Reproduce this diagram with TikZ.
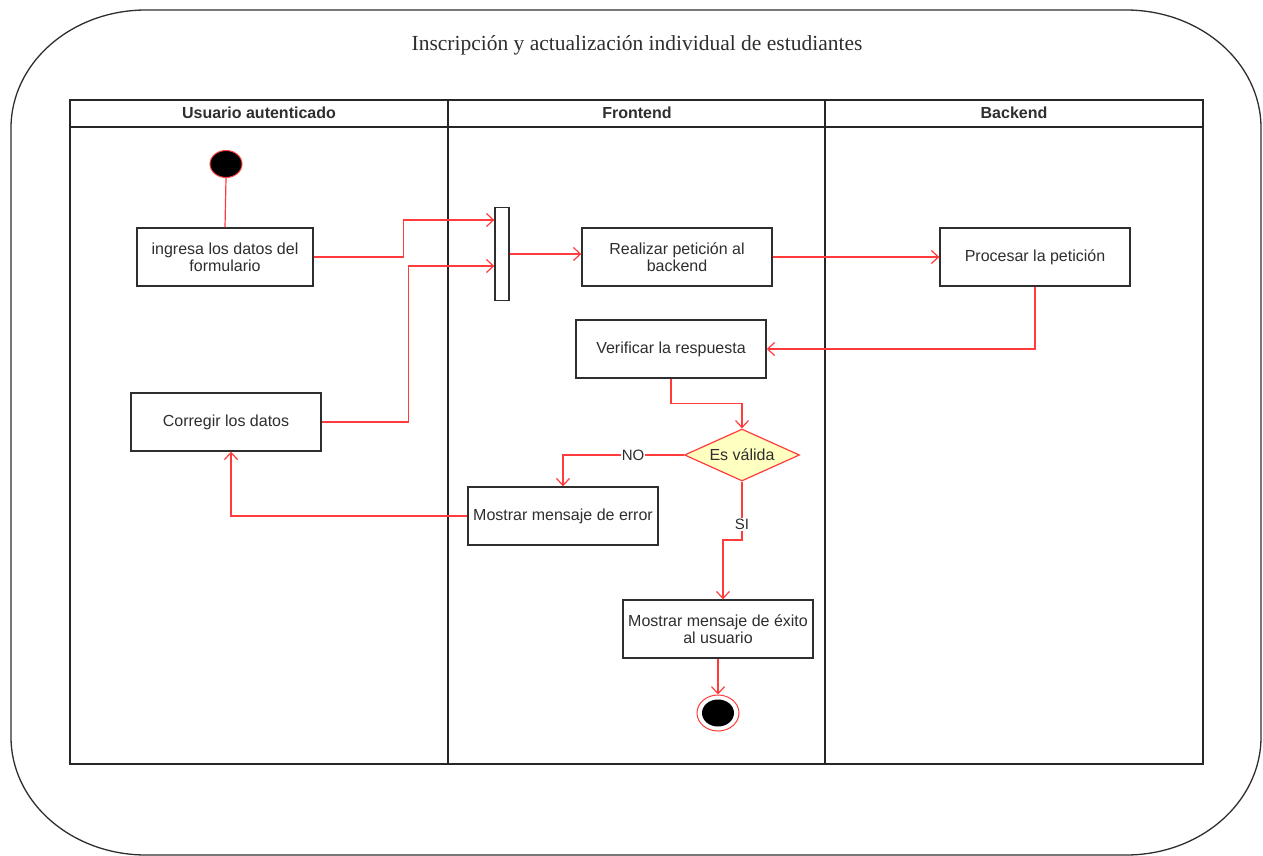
\documentclass[tikz,border=0pt]{standalone}
\usepackage{fontspec}
\setmainfont{Liberation Serif}
\setsansfont{Liberation Sans}
\usetikzlibrary{shapes.geometric,arrows.meta,calc}
\definecolor{flowred}{HTML}{FF3B3B}
\definecolor{ink}{HTML}{2E2E2E}
\definecolor{decfill}{HTML}{FFFFC0}
\tikzset{
  frame/.style={draw=ink, line width=1.3pt},
  lane/.style={draw=black!85, line width=1.5pt},
  act/.style={draw=ink, line width=1.4pt, fill=white, text=ink,
    font=\sffamily\fontsize{16}{17}\selectfont, align=center,
    minimum width=#1, minimum height=58pt, inner sep=0pt},
  act/.default=190pt,
  lanehead/.style={font=\sffamily\bfseries\fontsize{16}{18}\selectfont, text=ink},
  flow/.style={draw=flowred, line width=1.2pt, -{Straight Barb[length=7pt,width=13pt]}},
  plainflow/.style={draw=flowred, line width=1.2pt},
  guard/.style={fill=white, text=ink, inner sep=1pt,
    font=\sffamily\fontsize{15}{17}\selectfont},
}
\begin{document}
\begin{tikzpicture}[x=1pt,y=-1pt]
\useasboundingbox (0,0) rectangle (1263,856);

% outer frame with elliptic corners
\draw[frame] (11,128) arc[start angle=180, end angle=270, x radius=135, y radius=118]
  -- (1126,10) arc[start angle=270, end angle=360, x radius=135, y radius=118]
  -- (1261,737) arc[start angle=0, end angle=90, x radius=135, y radius=118]
  -- (146,855) arc[start angle=90, end angle=180, x radius=135, y radius=118]
  -- cycle;

\node[font=\rmfamily\fontsize{21.5}{24}\selectfont, text=ink] (title) at (637,45)
  {Inscripción y actualización individual de estudiantes};

% swimlanes
\draw[lane] (70,100) rectangle (1203,764);
\draw[lane] (70,127) -- (1203,127);
\draw[lane] (448,100) -- (448,764);
\draw[lane] (825,100) -- (825,764);
\node[lanehead] (h1) at (259,113) {Usuario autenticado};
\node[lanehead] (h2) at (637,113) {Frontend};
\node[lanehead] (h3) at (1014,113) {Backend};

% activities
\node[ellipse, fill=black, draw=flowred, line width=1pt,
  minimum width=32pt, minimum height=27pt, inner sep=0pt] (start) at (226,164) {};
\node[act=176pt] (ingresa) at (225,257) {ingresa los datos del\\formulario};
\node[act] (corregir) at (226,422) {Corregir los datos};
\node[draw=ink, line width=1.3pt, fill=white, minimum width=14pt,
  minimum height=93pt, inner sep=0pt] (bar) at (502,254) {};
\node[act] (realizar) at (677,257) {Realizar petición al\\backend};
\node[act] (procesar) at (1035,257) {Procesar la petición};
\node[act] (verificar) at (671,349) {Verificar la respuesta};
\node[diamond, draw=flowred, line width=1.2pt, fill=decfill, text=ink,
  font=\sffamily\fontsize{16}{18}\selectfont, aspect=2.2,
  minimum width=115pt, minimum height=52pt, inner sep=0pt] (dec) at (742,455) {Es válida};
\node[act] (error) at (563,516) {Mostrar mensaje de error};
\node[act] (exito) at (718,629) {Mostrar mensaje de éxito\\al usuario};
\node[ellipse, draw=flowred, line width=1pt, fill=white,
  minimum width=42pt, minimum height=36pt, inner sep=0pt] (end) at (718,713) {};
\node[ellipse, fill=black, minimum width=32pt, minimum height=27pt,
  inner sep=0pt] (endcore) at (end.center) {};

% connectors
\draw[plainflow] (start.south) -- (ingresa.north);
\draw[flow] (ingresa.east) -- ++(90,0) |- ([yshift=34pt]bar.west);
\draw[flow] (corregir.east) -- ++(87,0) |- ([yshift=-12pt]bar.west);
\draw[flow] (bar.east) -- (bar.east -| realizar.west);
\draw[flow] (realizar.east) -- (procesar.west);
\draw[flow] (procesar.south) |- (verificar.east);
\draw[flow] (verificar.south) -- ++(0,25) -| (dec.north);
\draw[flow] (dec.west) -| node[guard, pos=0.21] {NO} (error.north);
\draw[flow] (dec.south) -- node[guard, pos=0.73] {SI} (742,540) -- (723,540)
  -- ([xshift=5pt]exito.north);
\draw[flow] (error.west) -| ([xshift=5pt]corregir.south);
\draw[flow] (exito.south) -- (end.north);
\end{tikzpicture}
\end{document}
